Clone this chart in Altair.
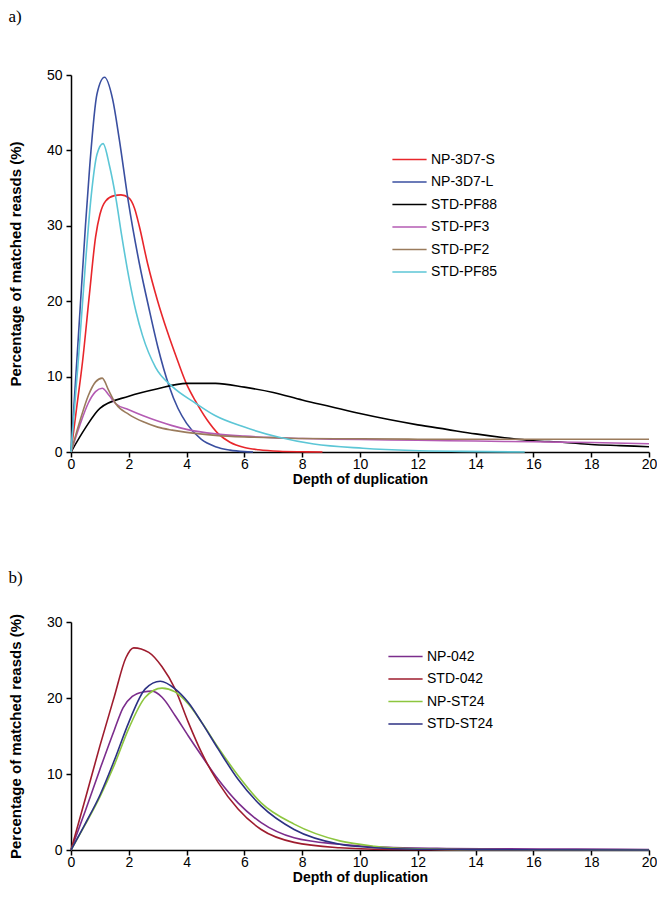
import altair as alt
import pandas as pd

# ---------------- Panel a data ----------------
names_a = ["NP-3D7-S", "NP-3D7-L", "STD-PF88", "STD-PF3", "STD-PF2", "STD-PF85"]
colors_a = ["#e8262b", "#3a4fa0", "#000000", "#b45bb3", "#9a7b5c", "#5cc6d6"]

np3d7s_x = [0, 0.2, 0.4, 0.64, 0.85, 1.0, 1.2, 1.5, 1.73, 2.0, 2.2, 2.36, 2.65, 3.0, 3.33, 3.7, 4.0, 4.3, 4.7, 5.1, 5.5, 6.0, 6.5, 7.2, 8.0, 8.7]
np3d7s_y = [0, 6, 12, 21, 28.5, 31.5, 33.3, 34, 34.1, 33.7, 32.3, 30, 25, 20, 16, 12, 9, 6.8, 4.3, 2.4, 1.3, 0.6, 0.3, 0.1, 0.03, 0]

np3d7l_x = [0, 0.25, 0.5, 0.65, 0.9, 1.16, 1.44, 1.67, 1.98, 2.36, 2.7, 3.0, 3.39, 3.7, 4.0, 4.5, 5.0, 5.5, 6.0, 6.3]
np3d7l_y = [0, 15, 30, 38, 47.5, 49.7, 46.8, 41.5, 33.3, 25.1, 19, 14, 8.8, 5.8, 3.8, 1.7, 0.7, 0.25, 0.05, 0]

pf88_x = [0, 0.5, 1, 2, 3, 4, 5, 6, 7, 8, 9, 10, 11, 12, 13, 14, 15, 16, 17, 18, 19, 20]
pf88_y = [0, 3.2, 5.8, 7.4, 8.4, 9.1, 9.1, 8.6, 7.9, 6.9, 6.0, 5.1, 4.3, 3.6, 3.0, 2.4, 1.9, 1.5, 1.3, 1.0, 0.85, 0.7]

pf3_x = [0, 0.3, 0.6, 0.85, 1.08, 1.3, 1.55, 2.0, 2.5, 3.0, 3.5, 4.0, 5.0, 6.0, 7.0, 8.0, 9.0, 10, 12, 14, 16, 18, 20]
pf3_y = [0, 3.5, 6.5, 8.0, 8.45, 7.6, 6.4, 5.6, 4.8, 4.1, 3.5, 3.0, 2.4, 2.1, 1.9, 1.8, 1.7, 1.65, 1.55, 1.45, 1.35, 1.25, 1.1]

pf2_x = [0, 0.3, 0.6, 0.85, 1.08, 1.3, 1.55, 2.0, 2.5, 3.0, 3.5, 4.0, 5.0, 6.0, 7.0, 8.0, 10, 12, 14, 16, 18, 20]
pf2_y = [0, 4, 7.5, 9.3, 9.8, 8.2, 6.4, 5.0, 4.0, 3.3, 2.9, 2.6, 2.2, 2.0, 1.9, 1.8, 1.75, 1.7, 1.7, 1.7, 1.7, 1.7]

pf85_x = [0, 0.25, 0.5, 0.7, 0.9, 1.11, 1.33, 1.56, 1.75, 2.0, 2.25, 2.47, 2.93, 3.5, 4.3, 5.0, 6.0, 7.2, 8.4, 10.1, 11.8, 13.5, 15.7]
pf85_y = [0, 12, 25, 34, 39.5, 40.9, 38, 33.5, 28.8, 23.2, 18.6, 15.5, 11.2, 8.7, 6.5, 4.8, 3.3, 1.95, 1.05, 0.5, 0.2, 0.08, 0]

# ---------------- Panel b data ----------------
names_b = ["NP-042", "STD-042", "NP-ST24", "STD-ST24"]
colors_b = ["#7b2d8c", "#9e1c2e", "#8dc63f", "#2c3183"]

np042_x = [0, 0.5, 1, 1.5, 1.8, 2.12, 2.5, 2.8, 3.15, 3.6, 4.06, 4.52, 5.09, 5.78, 6.58, 7.72, 9.3, 11, 13, 15, 17.5, 20]
np042_y = [0, 5.2, 10.6, 15.8, 18.7, 20.2, 20.8, 20.9, 20.1, 17.7, 15.0, 12.4, 9.3, 6.2, 3.6, 1.6, 0.75, 0.35, 0.2, 0.15, 0.12, 0.05]

std042_x = [0, 0.5, 1, 1.5, 1.9, 2.17, 2.69, 3.15, 3.6, 4.06, 4.52, 5.09, 5.78, 6.58, 7.72, 9.3, 11, 13, 20]
std042_y = [0, 6.8, 13.7, 20.2, 25.3, 26.6, 26.0, 24.1, 21.2, 16.8, 12.8, 8.9, 5.4, 2.7, 1.0, 0.3, 0.08, 0.02, 0]

npst24_x = [0, 0.5, 1, 1.5, 2, 2.57, 3.15, 3.6, 4.06, 4.52, 5.09, 5.78, 6.58, 7.72, 9.3, 10.5, 12, 14, 20]
npst24_y = [0, 3.4, 7.0, 11.2, 16.0, 20.1, 21.3, 20.8, 19.2, 16.8, 13.5, 9.8, 6.2, 3.4, 1.2, 0.5, 0.15, 0.05, 0]

stdst24_x = [0, 0.5, 1, 1.5, 2, 2.57, 3.09, 3.6, 4.06, 4.52, 5.09, 5.78, 6.58, 7.72, 9.3, 10.5, 12, 14, 20]
stdst24_y = [0, 3.5, 7.2, 11.8, 16.8, 21.2, 22.2, 21.2, 19.4, 16.8, 13.3, 9.3, 5.8, 2.7, 0.75, 0.3, 0.1, 0.05, 0]

x_ticks = [0, 2, 4, 6, 8, 10, 12, 14, 16, 18, 20]
y_ticks_a = [0, 10, 20, 30, 40, 50]
y_ticks_b = [0, 10, 20, 30]


def build(names, xs, ys):
    rows = []
    for n, xv, yv in zip(names, xs, ys):
        for a, b in zip(xv, yv):
            rows.append({"series": n, "depth": a, "pct": b})
    return pd.DataFrame(rows)


df_a = build(names_a, [np3d7s_x, np3d7l_x, pf88_x, pf3_x, pf2_x, pf85_x],
             [np3d7s_y, np3d7l_y, pf88_y, pf3_y, pf2_y, pf85_y])
df_b = build(names_b, [np042_x, std042_x, npst24_x, stdst24_x],
             [np042_y, std042_y, npst24_y, stdst24_y])

FONT = "Liberation Sans"


def panel(df, names, colors, ymax, yticks, h, label, toffset, lx, ly):
    return alt.Chart(df).mark_line(strokeWidth=1.6, interpolate="monotone").encode(
        x=alt.X("depth:Q", scale=alt.Scale(domain=[0, 20], nice=False),
                axis=alt.Axis(values=x_ticks, title="Depth of duplication", labelFlush=False)),
        y=alt.Y("pct:Q", scale=alt.Scale(domain=[0, ymax], nice=False),
                axis=alt.Axis(values=yticks, title="Percentage of matched reasds (%)")),
        color=alt.Color("series:N", scale=alt.Scale(domain=names, range=colors),
                        legend=alt.Legend(title=None, orient="none", legendX=lx, legendY=ly,
                                          symbolType="M-1.8,0H1.8", symbolSize=361,
                                          symbolStrokeWidth=1.5, labelOffset=11, rowPadding=4.5,
                                          labelFontSize=14, labelFont=FONT, labelColor="#000",
                                          padding=0)),
    ).properties(
        width=578, height=h,
        title=alt.TitleParams(label, anchor="start", frame="bounds", offset=toffset,
                              fontSize=17, font="Liberation Serif", fontWeight="normal",
                              color="#000"),
    )


pa = panel(df_a, names_a, colors_a, 50, y_ticks_a, 377, "a)", 42, 328, 74)
pb = panel(df_b, names_b, colors_b, 30, y_ticks_b, 228, "b)", 26, 324, 24)

chart = alt.vconcat(pa, pb, spacing=83).resolve_scale(color="independent").properties(
    padding={"left": 0, "top": 0, "right": 0, "bottom": 4}
).configure_view(stroke=None).configure_axis(
    grid=False, domainColor="#000", tickColor="#000", domainWidth=1.5, tickWidth=1.5,
    tickSize=5, labelFont=FONT, labelFontSize=14, labelColor="#000", labelPadding=0,
    titleFont=FONT, titleFontWeight="bold", titleColor="#000",
).configure_axisY(titlePadding=23, titleFontSize=15, labelPadding=4).configure_axisX(titlePadding=1, titleFontSize=14)

chart.save("out.html", embed_options={"renderer": "svg", "actions": False})
